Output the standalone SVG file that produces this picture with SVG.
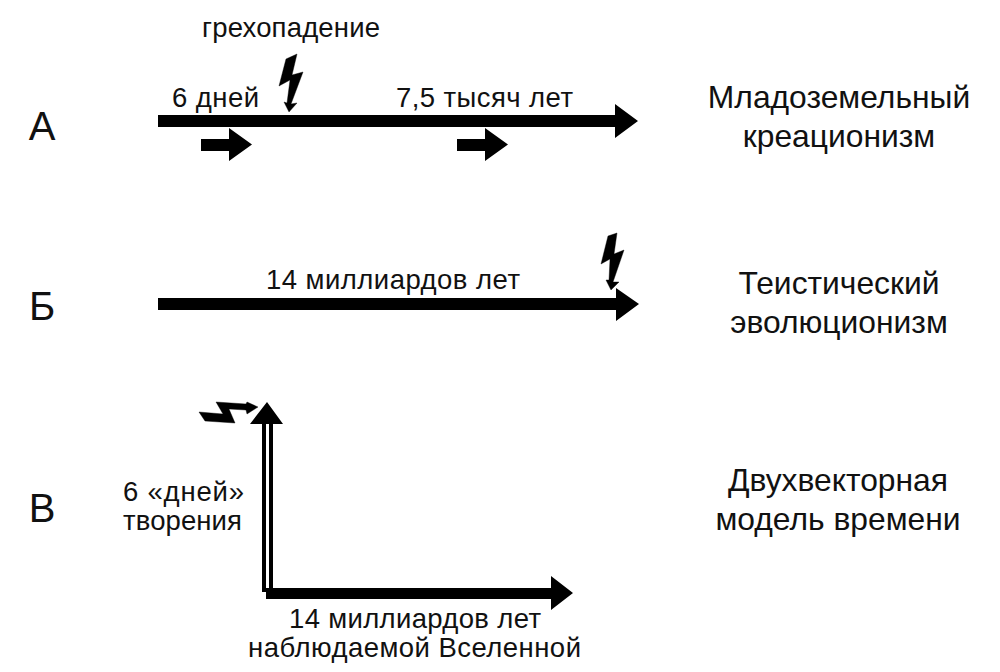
<svg xmlns="http://www.w3.org/2000/svg" width="1000" height="672" viewBox="0 0 1000 672">
<style>
text{font-family:"Liberation Sans",Arial,sans-serif;fill:#111}
.s{font-size:27.500px}
.t{font-size:31.800px;text-anchor:middle}
.l{font-size:40px;text-anchor:middle}
.k{fill:#000;stroke:none}
.b{fill:#000;stroke:#000;stroke-width:0.400;stroke-linejoin:round}
</style>
<rect width="1000" height="672" fill="#fff"/>
<g id="connectors">
<polygon class="k" points="158,115 615,115 615,104 638,121 615,138 615,127 158,127"/>
<polygon class="k" points="201,139 229,139 229,128 252,144.500 229,161 229,151 201,151"/>
<polygon class="k" points="457,139 485,139 485,128 508,144.500 485,161 485,151 457,151"/>
<polygon class="k" points="158,298 616,298 616,288 639,304 616,321 616,310 158,310"/>
<polygon class="k" points="267,402 283,424 273,424 273,588 269,588 269,424 266,424 266,592 262,592 262,424 250,424"/>
<polygon class="k" points="266,588 551,588 551,576 573,593 551,610 551,599 266,599"/>
</g>
<g id="bolt-a"><polygon class="b" points="297,54 286,59 279,86 290,80 287,103 284,102 289,112 297,103 291,104 303,72 292,75"/></g>
<g id="bolt-b"><polygon class="b" points="617,233 608,236 601,264 610,259 609,280 606,280 611,290 619,282 613,282 624,250 614,254"/></g>
<g id="bolt-c"><polygon class="b" points="199,412 223,414 216,402 246,404 247,402 258,407 247,414 246,410 229,409 235,423 205,421"/></g>
<g id="labels-time">
<text class="s" x="202" y="37" textLength="178">грехопадение</text>
<text class="s" x="172" y="107" textLength="87">6 дней</text>
<text class="s" x="396" y="107" textLength="177">7,5 тысяч лет</text>
<text class="s" x="266" y="289" textLength="254">14 миллиардов лет</text>
<text class="s" x="123" y="501" textLength="121">6 «дней»</text>
<text class="s" x="123" y="530" textLength="119">творения</text>
<text class="s" x="289" y="628" textLength="252">14 миллиардов лет</text>
<text class="s" x="248" y="657" textLength="333">наблюдаемой Вселенной</text>
</g>
<g id="row-a"><text class="l" x="42" y="140">А</text>
<text class="t" x="839" y="108">Младоземельный</text><text class="t" x="839" y="147">креационизм</text></g>
<g id="row-b"><text class="l" x="42" y="320">Б</text>
<text class="t" x="839" y="294">Теистический</text><text class="t" x="839" y="333">эволюционизм</text></g>
<g id="row-c"><text class="l" x="42" y="522">В</text>
<text class="t" x="838" y="491">Двухвекторная</text><text class="t" x="838" y="530">модель времени</text></g>
</svg>
